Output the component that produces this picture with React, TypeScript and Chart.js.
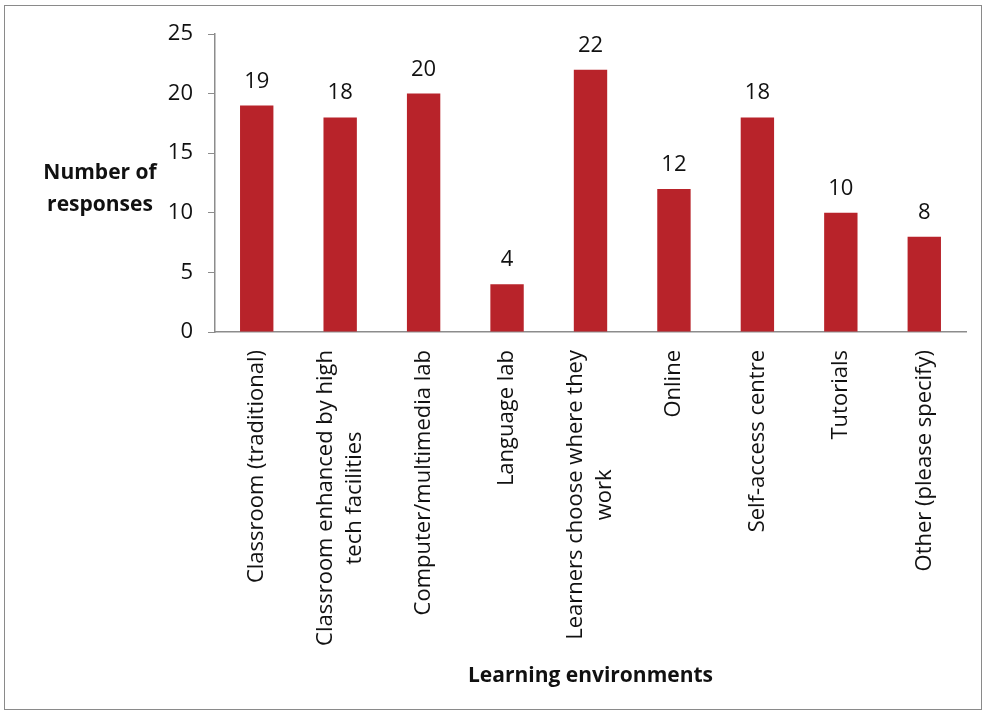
import React, { useEffect, useRef } from "react";
import { Chart, registerables } from "chart.js";

Chart.register(...registerables);

const categories: string[][] = [
  ["Classroom (traditional)"],
  ["Classroom enhanced by high", "tech facilities"],
  ["Computer/multimedia lab"],
  ["Language lab"],
  ["Learners choose where they", "work"],
  ["Online"],
  ["Self-access centre"],
  ["Tutorials"],
  ["Other (please specify)"],
];
const responses: number[] = [19, 18, 20, 4, 22, 12, 18, 10, 8];
const yTicks: number[] = [0, 5, 10, 15, 20, 25];
const yTitle: string[] = ["Number of", "responses"];
const xTitle = "Learning environments";

const FONT = "'Open Sans', 'Noto Sans', sans-serif";
const BAR = "#b8232a";
const AXIS = "#8c8c8c";

const customPlugin = {
  id: "custom",
  afterDraw(chart: any) {
    const ctx = chart.ctx;
    const area = chart.chartArea;
    const xs = chart.scales.x;
    ctx.save();
    ctx.fillStyle = "#111";
    // data labels
    ctx.font = `22px ${FONT}`;
    ctx.textAlign = "center";
    ctx.textBaseline = "alphabetic";
    const meta = chart.getDatasetMeta(0);
    meta.data.forEach((bar: any, i: number) => {
      ctx.fillText(String(responses[i]), bar.x, bar.y - 18);
    });
    // x labels, rotated, lines centered
    ctx.font = `22px ${FONT}`;
    const lh = 29;
    categories.forEach((lines, i) => {
      const x = xs.getPixelForTick(i);
      const y = area.bottom + 18;
      const W = Math.max(...lines.map((l) => ctx.measureText(l).width));
      ctx.save();
      ctx.translate(x, y);
      ctx.rotate(-Math.PI / 2);
      ctx.textAlign = "center";
      ctx.textBaseline = "middle";
      lines.forEach((l, j) => {
        ctx.fillText(l, -W / 2, (j - (lines.length - 1) / 2) * lh);
      });
      ctx.restore();
    });
    // y title
    ctx.font = `bold 21px ${FONT}`;
    ctx.textAlign = "center";
    ctx.textBaseline = "middle";
    const cy = (area.top + area.bottom) / 2 + 6;
    yTitle.forEach((l, j) => {
      ctx.fillText(l, 100, cy + (j - (yTitle.length - 1) / 2) * 32);
    });
    // x title
    ctx.fillText(xTitle, (area.left + area.right) / 2, area.bottom + 344);
    ctx.restore();
  },
};

export default function App() {
  const ref = useRef<HTMLCanvasElement>(null);
  useEffect(() => {
    document.body.style.margin = "0";
    const chart = new Chart(ref.current!, {
      type: "bar",
      data: {
        labels: categories,
        datasets: [
          {
            data: responses,
            backgroundColor: BAR,
            barPercentage: 0.4,
            categoryPercentage: 1,
          },
        ],
      },
      options: {
        animation: false,
        responsive: false,
        layout: { padding: { top: 34, right: 26, left: 0, bottom: 0 } },
        plugins: { legend: { display: false }, tooltip: { enabled: false } },
        scales: {
          x: {
            grid: { display: false },
            border: { display: true, color: AXIS, width: 1.5 },
            ticks: {
              color: "rgba(0,0,0,0)",
              maxRotation: 90,
              minRotation: 90,
              font: { family: FONT, size: 20 },
            },
            afterFit: (s: any) => {
              s.height = 389;
            },
          },
          y: {
            min: 0,
            max: 25,
            afterBuildTicks: (s: any) => {
              s.ticks = yTicks.map((v) => ({ value: v }));
            },
            grid: {
              display: true,
              drawOnChartArea: false,
              drawTicks: true,
              tickLength: 7,
              color: AXIS,
            },
            border: { display: true, color: AXIS, width: 1.5 },
            ticks: {
              color: "#111",
              padding: 15,
              font: { family: FONT, size: 22 },
            },
            afterFit: (s: any) => {
              s.width = 215;
            },
          },
        },
      },
      plugins: [customPlugin],
    });
    return () => chart.destroy();
  }, []);
  return (
    <div style={{ position: "relative", width: 992, height: 721, background: "#fff" }}>
      <div
        style={{
          position: "absolute",
          left: 4,
          top: 5,
          width: 978,
          height: 705,
          border: "1.5px solid #8a8a8a",
          boxSizing: "border-box",
        }}
      />
      <canvas ref={ref} width={992} height={721} style={{ position: "absolute", left: 0, top: 0 }} />
    </div>
  );
}
